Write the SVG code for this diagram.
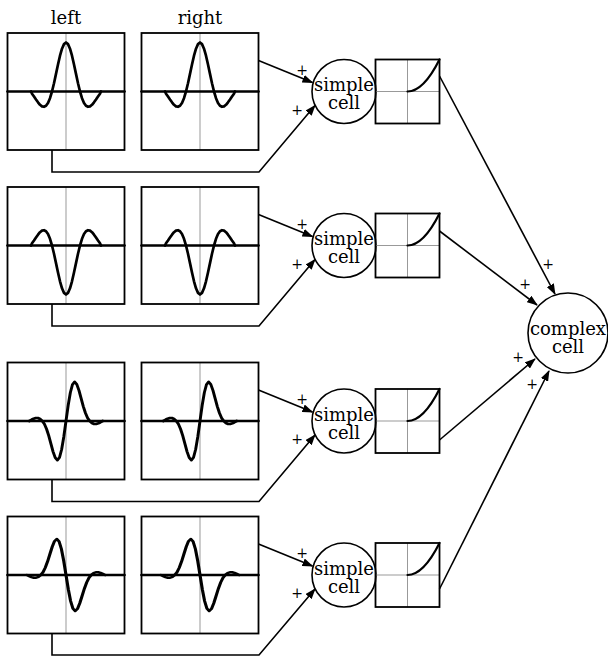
<svg xmlns="http://www.w3.org/2000/svg" xmlns:xlink="http://www.w3.org/1999/xlink" width="608" height="656" viewBox="0 0 608 656">
<style>
.box{fill:none;stroke:#000;stroke-width:1.8}
.grid{stroke:#999;stroke-width:1;fill:none}
.wave{fill:none;stroke:#000;stroke-width:2.7;stroke-linejoin:round;stroke-linecap:round}
.nl{fill:none;stroke:#000;stroke-width:2.2;stroke-linecap:round}
.cell{fill:#fff;stroke:#000;stroke-width:1.6}
.conn{fill:none;stroke:#000;stroke-width:1.6}
.arr{marker-end:url(#ah)}
text{font-family:"DejaVu Serif","Liberation Serif",serif;fill:#000}
.lbl{font-size:18px;text-anchor:middle}
.ct{font-size:18px;text-anchor:middle}
.plus{font-size:14px;text-anchor:middle}
</style>
<defs>
<marker id="ah" markerUnits="userSpaceOnUse" markerWidth="11" markerHeight="8" refX="10" refY="4" orient="auto" viewBox="0 0 11 8">
<path d="M0,0 L11,4 L0,8 z" fill="#000"/>
</marker>
<path id="even" class="wave" d="M-35,0 L-34,2.2 -32,5 -30,8 -28,10.8 -26,13.3 -24,14.9 -22,15.3 -20,14.3 -18,11.5 -16,6.7 -14,0 -12,-8.3 -10,-17.6 -8,-27 -6,-35.8 -4,-42.8 -2,-47.4 0,-49 2,-47.4 4,-42.8 6,-35.8 8,-27 10,-17.6 12,-8.3 14,0 16,6.7 18,11.5 20,14.3 22,15.3 24,14.9 26,13.3 28,10.8 30,8 32,5 34,2.2 35,0"/>
<path id="odd" class="wave" d="M-34,0 L-32,-1.2 -30,-2.3 -28,-3 -26,-3 -24,-2 -22,0 -20,3 -18,8 -16,14.7 -14,22.7 -12,30.6 -10,36.7 -8,39.1 -6,36.5 -4,28.3 -2,15.5 0,0 2,-15.5 4,-28.3 6,-36.5 8,-39.1 10,-36.7 12,-30.6 14,-22.7 16,-14.7 18,-8 20,-3 22,0 24,2 26,3 28,3 30,2.3 32,1.2 34,0"/>
</defs>
<rect width="608" height="656" fill="#fff"/>

<g id="labels">
<text class="lbl" x="66" y="24">left</text>
<text class="lbl" x="200" y="24">right</text>
</g>

<g id="connectors">
<path class="conn arr" d="M258.5,60.5 L312.5,82.5"/>
<path class="conn arr" d="M52,150 V172 H259 L315,105.5"/>
<path class="conn arr" d="M258.5,214.5 L312.5,236.5"/>
<path class="conn arr" d="M52,304 V326 H259 L315,259.5"/>
<path class="conn arr" d="M258.5,390 L312.5,412"/>
<path class="conn arr" d="M52,479.5 V501.5 H259 L315,435"/>
<path class="conn arr" d="M258.5,544 L312.5,566"/>
<path class="conn arr" d="M52,633.5 V655 H259 L315,589"/>
<path class="conn arr" d="M439.5,76 L555,294"/>
<path class="conn arr" d="M439.5,231 L537,305"/>
<path class="conn arr" d="M439.5,440 L535,359"/>
<path class="conn arr" d="M439.5,589 L549,371"/>
<text class="plus" x="302" y="74.5">+</text>
<text class="plus" x="297" y="114.5">+</text>
<text class="plus" x="302" y="228.5">+</text>
<text class="plus" x="297" y="268.5">+</text>
<text class="plus" x="302" y="404">+</text>
<text class="plus" x="297" y="444">+</text>
<text class="plus" x="302" y="558">+</text>
<text class="plus" x="297" y="598">+</text>
<text class="plus" x="548" y="269">+</text>
<text class="plus" x="525" y="289">+</text>
<text class="plus" x="518" y="362">+</text>
<text class="plus" x="532" y="389">+</text>
</g>

<g id="left1">
<line class="grid" x1="66" y1="33" x2="66" y2="150"/>
<rect class="box" x="7.5" y="33" width="117" height="117"/>
<line class="wave" x1="7.5" y1="91.5" x2="124.5" y2="91.5"/>
<use xlink:href="#even" transform="translate(66,91.5)"/>
</g>
<g id="right1">
<line class="grid" x1="200" y1="33" x2="200" y2="150"/>
<rect class="box" x="141.5" y="33" width="117" height="117"/>
<line class="wave" x1="141.5" y1="91.5" x2="258.5" y2="91.5"/>
<use xlink:href="#even" transform="translate(200,91.5)"/>
</g>
<g id="simple1">
<circle class="cell" cx="344" cy="91.5" r="32"/>
<text class="ct" x="344" y="91">simple</text>
<text class="ct" x="344" y="109">cell</text>
</g>
<g id="nonlin1">
<line class="grid" x1="407.5" y1="59.5" x2="407.5" y2="123.5"/>
<line class="grid" x1="375.5" y1="91.5" x2="439.5" y2="91.5"/>
<rect class="box" x="375.5" y="59.5" width="64" height="64"/>
<path class="nl" d="M407.5,91.5 Q423.5,91.5 439.5,59.5"/>
</g>

<g id="left2">
<line class="grid" x1="66" y1="187" x2="66" y2="304"/>
<rect class="box" x="7.5" y="187" width="117" height="117"/>
<line class="wave" x1="7.5" y1="245.5" x2="124.5" y2="245.5"/>
<use xlink:href="#even" transform="translate(66,245.5) scale(1,-1)"/>
</g>
<g id="right2">
<line class="grid" x1="200" y1="187" x2="200" y2="304"/>
<rect class="box" x="141.5" y="187" width="117" height="117"/>
<line class="wave" x1="141.5" y1="245.5" x2="258.5" y2="245.5"/>
<use xlink:href="#even" transform="translate(200,245.5) scale(1,-1)"/>
</g>
<g id="simple2">
<circle class="cell" cx="344" cy="245.5" r="32"/>
<text class="ct" x="344" y="245">simple</text>
<text class="ct" x="344" y="263">cell</text>
</g>
<g id="nonlin2">
<line class="grid" x1="407.5" y1="213.5" x2="407.5" y2="277.5"/>
<line class="grid" x1="375.5" y1="245.5" x2="439.5" y2="245.5"/>
<rect class="box" x="375.5" y="213.5" width="64" height="64"/>
<path class="nl" d="M407.5,245.5 Q423.5,245.5 439.5,213.5"/>
</g>

<g id="left3">
<line class="grid" x1="66" y1="362.5" x2="66" y2="479.5"/>
<rect class="box" x="7.5" y="362.5" width="117" height="117"/>
<line class="wave" x1="7.5" y1="421" x2="124.5" y2="421"/>
<use xlink:href="#odd" transform="translate(66,421) scale(1.08,1)"/>
</g>
<g id="right3">
<line class="grid" x1="200" y1="362.5" x2="200" y2="479.5"/>
<rect class="box" x="141.5" y="362.5" width="117" height="117"/>
<line class="wave" x1="141.5" y1="421" x2="258.5" y2="421"/>
<use xlink:href="#odd" transform="translate(200,421) scale(1.08,1)"/>
</g>
<g id="simple3">
<circle class="cell" cx="344" cy="421" r="32"/>
<text class="ct" x="344" y="420.5">simple</text>
<text class="ct" x="344" y="438.5">cell</text>
</g>
<g id="nonlin3">
<line class="grid" x1="407.5" y1="389" x2="407.5" y2="453"/>
<line class="grid" x1="375.5" y1="421" x2="439.5" y2="421"/>
<rect class="box" x="375.5" y="389" width="64" height="64"/>
<path class="nl" d="M407.5,421 Q423.5,421 439.5,389"/>
</g>

<g id="left4">
<line class="grid" x1="66" y1="516.5" x2="66" y2="633.5"/>
<rect class="box" x="7.5" y="516.5" width="117" height="117"/>
<line class="wave" x1="7.5" y1="575" x2="124.5" y2="575"/>
<use xlink:href="#odd" transform="translate(66,575) scale(1.15,-0.92)"/>
</g>
<g id="right4">
<line class="grid" x1="200" y1="516.5" x2="200" y2="633.5"/>
<rect class="box" x="141.5" y="516.5" width="117" height="117"/>
<line class="wave" x1="141.5" y1="575" x2="258.5" y2="575"/>
<use xlink:href="#odd" transform="translate(200,575) scale(1.15,-0.92)"/>
</g>
<g id="simple4">
<circle class="cell" cx="344" cy="575" r="32"/>
<text class="ct" x="344" y="574.5">simple</text>
<text class="ct" x="344" y="592.5">cell</text>
</g>
<g id="nonlin4">
<line class="grid" x1="407.5" y1="543" x2="407.5" y2="607"/>
<line class="grid" x1="375.5" y1="575" x2="439.5" y2="575"/>
<rect class="box" x="375.5" y="543" width="64" height="64"/>
<path class="nl" d="M407.5,575 Q423.5,575 439.5,543"/>
</g>

<g id="complex">
<circle class="cell" cx="568" cy="333" r="40"/>
<text class="ct" x="568" y="335">complex</text>
<text class="ct" x="568" y="353">cell</text>
</g>
</svg>
